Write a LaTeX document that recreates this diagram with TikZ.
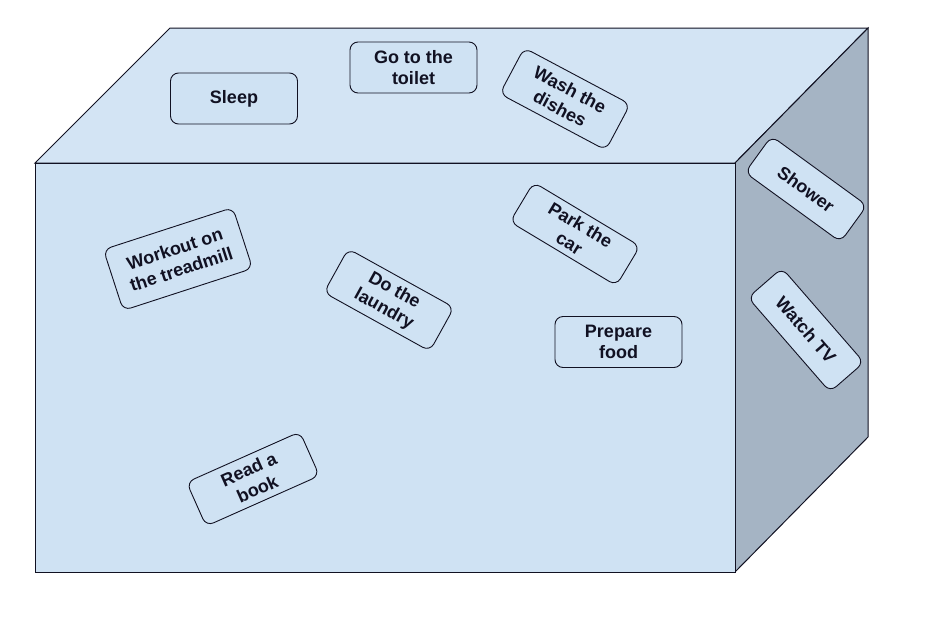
\documentclass[tikz,border=0pt]{standalone}
\usepackage{fontspec}
\setmainfont{Liberation Sans}
\definecolor{frontc}{HTML}{CFE2F3}
\definecolor{topc}{HTML}{D3E4F4}
\definecolor{sidec}{HTML}{A5B4C4}
\definecolor{stickc}{HTML}{CFE2F3}
\definecolor{inkc}{HTML}{111122}
\tikzset{
  face/.style={draw=inkc, line width=1pt, line join=miter},
  sticker/.style={draw=inkc, line width=0.9pt, fill=stickc, rounded corners=8pt,
    minimum width=#1, minimum height=51pt, align=center, inner sep=2pt,
    text=inkc, font=\fontsize{18}{21.5}\selectfont\bfseries},
  sticker/.default=127pt
}
\begin{document}
\begin{tikzpicture}[x=1pt,y=-1pt]
\useasboundingbox (0,0) rectangle (927,619);
% cube faces
\coordinate (fa) at (35,163);
\coordinate (fb) at (735,163);
\coordinate (fc) at (735,572);
\coordinate (fd) at (35,572);
\coordinate (ta) at (170,28);
\coordinate (tb) at (868,28);
\coordinate (rb) at (868,437);
\draw[face, fill=topc] (fa) -- (ta) -- (tb) -- (fb) -- cycle;
\draw[face, fill=sidec] (fb) -- (tb) -- (rb) -- (fc) -- cycle;
\draw[face, fill=frontc] (fa) -- (fb) -- (fc) -- (fd) -- cycle;
% stickers on top
\node[sticker] (sleep) at (234,98.5) {Sleep};
\node[sticker] (toilet) at (413.5,67.5) {Go to the\\toilet};
\node[sticker=120pt, minimum height=52pt, rotate=-28] (dishes) at (565,99) {Wash the\\dishes};
% stickers on side
\node[sticker=118pt, minimum height=45pt, rotate=-36] (shower) at (806,189) {Shower};
\node[sticker=125pt, minimum height=45pt, rotate=-49] (tv) at (806,330) {Watch TV};
% stickers on front
\node[sticker=136pt, minimum height=64pt, rotate=18] (workout) at (178,259) {Workout on\\the treadmill};
\node[sticker=121pt, minimum height=50pt, rotate=-29] (laundry) at (389,300) {Do the\\laundry};
\node[sticker=124pt, minimum height=46pt, rotate=-31] (car) at (575,234) {Park the\\car};
\node[sticker] (food) at (618.5,342) {Prepare\\food};
\node[sticker=124pt, minimum height=48pt, rotate=24] (book) at (253,479) {Read a\\book};
\end{tikzpicture}
\end{document}
